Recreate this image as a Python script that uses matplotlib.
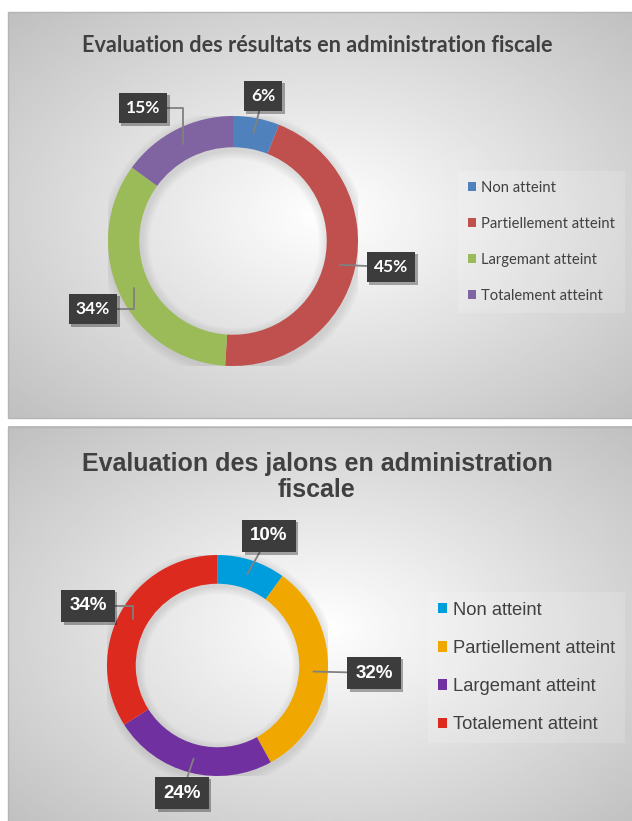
import numpy as np
import matplotlib.pyplot as plt
import matplotlib.patheffects as pe
from matplotlib.patches import Rectangle, Wedge

W, H = 632, 821

labels = ['Non atteint', 'Partiellement atteint', 'Largemant atteint', 'Totalement atteint']

title1 = 'Evaluation des résultats en administration fiscale'
values1 = [6, 45, 34, 15]
colors1 = ['#4f81bd', '#c0504d', '#9bbb59', '#8064a2']

title2 = 'Evaluation des jalons en administration\nfiscale'
values2 = [10, 32, 24, 34]
colors2 = ['#009ddd', '#f0a800', '#7030a0', '#dc2a1f']

# label box centres (pixels) and whether the leader line has an elbow
label_pos1 = [(263, 96), (391, 267), (93, 309), (143, 108)]
bends1 = [False, False, True, True]
label_pos2 = [(269, 536), (374, 673), (182, 793), (88, 606)]
bends2 = [False, False, False, True]

fig = plt.figure(figsize=(W / 100, H / 100), dpi=100)
bg = fig.add_axes([0, 0, 1, 1])
bg.axis('off')


def panel(x0, y0, x1, y1):
    xs = np.linspace(-1, 1, 300)
    ys = np.linspace(-1, 1, 200)
    X, Y = np.meshgrid(xs, ys)
    d = np.sqrt(X ** 2 + Y ** 2) / np.sqrt(2)
    v = 1 - 0.25 * d
    bg.imshow(v, cmap='gray', vmin=0, vmax=1, extent=(x0, x1, y1, y0),
              aspect='auto', interpolation='bilinear')
    bg.add_patch(Rectangle((x0, y0), x1 - x0, y1 - y0, fill=False, ec='#b5b5b5', lw=1))


panel(8, 12, 640, 418)
panel(8, 427, 640, 830)
bg.set_xlim(0, W)
bg.set_ylim(H, 0)


def donut(cx, cy, R, ratio, values, colors, label_pos, bends, family, fs):
    ax = fig.add_axes([(cx - R) / W, 1 - (cy + R) / H, 2 * R / W, 2 * R / H])
    # soft shadow round the ring
    for k in range(6):
        grow = 0.012 * (k + 1)
        ax.add_patch(Wedge((0.01, -0.02), 1 + grow, 0, 360, width=ratio + 2 * grow,
                           color='#808080', alpha=0.035, lw=0))
    wedges, _ = ax.pie(values, colors=colors, startangle=90, counterclock=False,
                       radius=1, wedgeprops=dict(width=ratio, linewidth=0))
    ax.set_xlim(-1, 1)
    ax.set_ylim(-1, 1)
    ax.axis('off')
    for w, v, (tx, ty), bend in zip(wedges, values, label_pos, bends):
        mid = np.deg2rad((w.theta1 + w.theta2) / 2)
        r = 1 - ratio / 2
        cs = 'angle,angleA=0,angleB=90,rad=0' if bend else 'arc3'
        ann = ax.annotate(f'{v}%', xy=(r * np.cos(mid), r * np.sin(mid)),
                          xytext=(tx, ty), textcoords=bg.transData,
                          ha='center', va='center', color='white',
                          fontsize=fs, fontweight='bold', family=family,
                          annotation_clip=False,
                          bbox=dict(boxstyle='square,pad=0.42', fc='#3c3c3c', lw=0),
                          arrowprops=dict(arrowstyle='-', color='#808080', lw=1.3,
                                          connectionstyle=cs, shrinkA=0, shrinkB=0))
        ann.get_bbox_patch().set_path_effects(
            [pe.SimplePatchShadow(offset=(2, -2), alpha=0.35), pe.Normal()])
    return ax, wedges


ax1, w1 = donut(233, 241, 125, 0.25, values1, colors1, label_pos1, bends1, 'Lato', 12.5)
ax2, w2 = donut(217.5, 665.5, 110.5, 0.26, values2, colors2, label_pos2, bends2, 'Liberation Sans', 13.5)

bg.text(317, 46, title1, ha='center', va='center', fontsize=15.6, fontweight='bold',
        color='#404040', family='Lato')
bg.text(317, 477, title2, ha='center', va='center', fontsize=18, fontweight='bold',
        color='#404040', family='Liberation Sans', linespacing=1.12)

leg1 = ax1.legend(w1, labels, loc='center left', bbox_to_anchor=(458 / W, 1 - 242 / H),
                  bbox_transform=fig.transFigure, frameon=True, fancybox=False,
                  borderaxespad=0, borderpad=0.7, handlelength=0.55, handleheight=0.55,
                  handletextpad=0.3, labelspacing=1.5, prop={'family': 'Lato', 'size': 10.6})
leg1.get_frame().set(facecolor='white', alpha=0.15, linewidth=0)
for t in leg1.get_texts():
    t.set_color('#404040')

leg2 = ax2.legend(w2, labels, loc='center left', bbox_to_anchor=(428 / W, 1 - 667.5 / H),
                  bbox_transform=fig.transFigure, frameon=True, fancybox=False,
                  borderaxespad=0, borderpad=0.55, handlelength=0.5, handleheight=0.5,
                  handletextpad=0.3, labelspacing=1.16, prop={'family': 'Liberation Sans', 'size': 13.2})
leg2.get_frame().set(facecolor='white', alpha=0.15, linewidth=0)
for t in leg2.get_texts():
    t.set_color('#404040')

fig.savefig('out.png', dpi=100, facecolor='white')
